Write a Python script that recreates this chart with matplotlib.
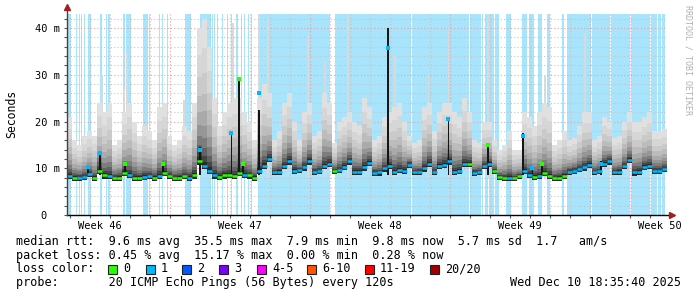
import matplotlib
matplotlib.use("Agg")
import matplotlib.pyplot as plt
from matplotlib.patches import Rectangle
import numpy as np

# 30 day smokeping graph, one sample = 6 hours
median_ms = [
    8.3, 8.0, 8.0, 8.1,   8.8, 8.0, 9.5, 8.5,   8.4, 8.0, 8.0, 9.0,
    8.6, 8.0, 8.0, 8.2,   8.3, 8.0, 8.3, 9.0,   8.4, 8.0, 8.0, 8.3,
    8.0, 8.5, 11.5, 10.5, 9.5, 8.5, 8.2, 8.5,   8.6, 8.3, 9.0, 8.6,
    8.5, 8.0, 9.5, 10.5,  12.0, 9.2, 9.3, 10.5, 11.5, 9.5, 9.6, 10.2,
    11.5, 9.2, 9.4, 10.5, 11.0, 9.5, 9.6, 10.3, 11.5, 9.2, 9.3, 10.2,
    11.2, 9.05, 9.1, 10.0, 10.5, 9.2, 9.6, 9.5, 10.8, 9.2, 9.3, 10.0,
    11.0, 9.2, 10.5, 10.8, 11.5, 9.2, 9.5, 11.0, 11.0, 9.05, 9.2, 10.5,
    11.0, 9.4, 8.2, 8.0,  8.0, 8.0, 8.3, 9.5,   8.6, 8.2, 8.3, 9.0,
    8.3, 8.0, 8.0, 8.4,   9.3, 9.5, 9.8, 10.2,  10.8, 9.2, 9.4, 11.0,
    11.5, 9.2, 9.3, 10.5, 11.8, 9.1, 9.3, 10.3, 10.5, 9.4, 9.4, 9.8,
]
smoke_top_ms = [
    21, 16, 15, 17,   18, 17, 24, 22,   24, 15, 16, 22,
    24, 20, 17, 19,   18, 16, 23, 24,   17, 15, 16, 19,
    18, 24, 40, 42,   36, 25, 19, 22,   24, 25, 25, 22,
    20, 16, 25, 28,   26, 16, 18, 24,   26, 20, 16, 22,
    24, 17, 18, 26,   24, 15.5, 20, 21, 22, 20, 19, 25,
    23, 16, 17, 21,   22, 23, 24, 20,   17, 15.5, 16, 23,
    24, 18, 22, 24,   24, 22, 21, 25,   22, 16, 15.5, 20,
    20, 16, 14, 15,   18, 14, 14, 22,   21, 19, 22, 24,
    23, 15, 16, 18,   16, 16.5, 19, 22, 22, 16, 17, 21,
    20, 16.5, 17, 20, 22, 20, 20, 21,   22, 18, 18, 18.5,
]

# narrow dark columns (median jumped up) and narrow light smoke peaks
spike_days = [1.05, 1.65, 2.9, 4.8, 6.65, 8.22, 8.6, 8.8, 9.6,
              16.05, 19.07, 21.05, 22.8, 23.27, 23.75, 26.7]
spike_dark_ms = [10.3, 13.3, 11.3, 11.0, 14.5, 17.5, 29.3, 11.0, 22.5,
                 40.0, 20.7, 15.4, 17.5, 10.3, 11.3, 11.5]
spike_median_ms = [10.3, 13.3, 11.0, 11.0, 14.0, 17.5, 29.0, 11.0, 26.0,
                   35.7, 20.5, 15.0, 17.0, 10.0, 11.0, 11.0]
gray_spike_days = [1.75, 2.85, 3.0, 5.85, 8.3, 9.6, 10.05, 12.05, 12.9,
                   14.05, 16.4, 18.08, 19.07, 21.05, 23.9, 25.9]
gray_spike_ms = [30, 27, 34.6, 24.6, 41, 43, 42, 38.5, 33,
                 42.8, 34, 30, 40, 43, 30, 39]

# light blue background where packets were lost (start day, end day)
loss_periods = [
    (0.05, 0.185), (0.45, 0.5), (0.585, 0.635), (0.715, 0.765), (0.85, 0.915),
    (1.05, 1.185), (1.65, 1.75), (1.95, 2.015), (2.035, 2.15), (2.8, 2.875),
    (2.95, 3.0), (3.015, 3.185), (3.815, 4.035), (4.1, 4.15), (4.585, 4.635),
    (4.75, 4.8), (5.0, 5.05), (5.9, 6.185), (6.65, 7.175), (7.25, 7.3),
    (7.35, 7.4), (7.5, 7.55), (7.75, 7.8), (8.0, 8.05), (8.2, 8.25),
    (8.45, 8.55), (8.685, 8.75), (8.85, 8.9), (9.05, 9.115), (9.185, 9.25),
    (9.55, 13.165), (13.385, 17.185), (17.235, 20.085), (20.135, 20.7),
    (20.75, 20.8), (20.875, 21.025), (21.1, 21.35), (21.4, 21.575),
    (21.95, 22.175), (22.75, 23.0), (23.075, 23.325), (23.55, 23.75),
    (24.0, 24.125), (24.75, 24.85), (24.985, 26.175), (26.225, 27.165),
    (27.215, 28.165), (28.215, 29.165), (29.215, 29.5), (29.55, 29.715),
    (29.765, 29.9),
]

week_labels = ["Week 46", "Week 47", "Week 48", "Week 49", "Week 50"]
week_label_days = [1.65, 8.65, 15.65, 22.65, 29.65]

loss_labels = ["0", "1", "2", "3", "4-5", "6-10", "11-19", "20/20"]
loss_colors = ["#26ff00", "#00b8ff", "#0059ff", "#7e00ff", "#ff00ff",
               "#ff5500", "#ff0000", "#a10000"]

W, H = 697, 297
MONO = "DejaVu Sans Mono"


def fx(px):
    return px / W


def fy(py):
    return 1 - py / H


fig = plt.figure(figsize=(W / 100, H / 100), dpi=100)
fig.patch.set_facecolor("white")
ax = fig.add_axes([fx(67), fy(215), 600 / W, 201 / H])
ax.set_xlim(0, 30)
ax.set_ylim(0, 43)
for s in ax.spines.values():
    s.set_visible(False)

# loss background
for a, b in loss_periods:
    ax.axvspan(a, b, color="#a8e4fb", lw=0, zorder=0)

# grid
for y in range(2, 43, 2):
    c = "#e6a3a3" if y % 10 == 0 else "#c4c4c4"
    ax.axhline(y, color=c, lw=0.8, ls=(0, (1, 2)), zorder=1)
for k in range(30):
    d = 0.15 + k
    c = "#e6a3a3" if (k - 5) % 7 == 0 else "#c4c4c4"
    if k == 28:
        c = "#e9a6d8"
    ax.axvline(d, color=c, lw=0.8, ls=(0, (1, 2)), zorder=1)

med = np.array(median_ms)
top = np.array(smoke_top_ms)
edges = np.arange(len(med) + 1) * 0.25
med_e = np.append(med, med[-1])
top_e = np.append(top, top[-1])
low_e = med_e - 0.7

# thin light smoke peaks
ax.bar(gray_spike_days, np.array(gray_spike_ms) - 8, bottom=8, width=0.07,
       color="#d9d9d9", lw=0, zorder=2)

# smoke layers, lightest (widest) first
fracs = [1.0, 0.8, 0.63, 0.49, 0.37, 0.27, 0.19, 0.12, 0.07, 0.03]
shades = ["#e0e0e0", "#d6d6d6", "#cacaca", "#bcbcbc", "#aaaaaa",
          "#969696", "#7d7d7d", "#626262", "#454545", "#2a2a2a"]
for f, c in zip(fracs, shades):
    lvl = med_e + (top_e - med_e) * f
    ax.fill_between(edges, low_e, lvl, step="post", color=c, lw=0, zorder=3)

# dark columns
ax.bar(spike_days, np.array(spike_dark_ms) - 8.5, bottom=8.5, width=0.08,
       color="#151515", lw=0, zorder=4)


def lost(day):
    return any(a <= day < b for a, b in loss_periods)


# median line coloured by loss
for k, m in enumerate(med):
    c = loss_colors[1] if lost(edges[k] + 0.125) else loss_colors[0]
    ax.hlines(m, edges[k], edges[k + 1], color=c, lw=1.8, zorder=5)
for d, m in zip(spike_days, spike_median_ms):
    c = loss_colors[1] if lost(d) else loss_colors[0]
    ax.plot(d, m, marker="s", ms=2.2, color=c, mew=0, zorder=6)

# axes
ax.plot([0, 30.2], [0, 0], color="black", lw=1, clip_on=False, zorder=7)
ax.plot([0, 0], [0, 44.2], color="#444444", lw=1, clip_on=False, zorder=7)
ax.plot(0, 44.4, marker="^", ms=4, color="#a01f1f", clip_on=False, zorder=8)
ax.plot(30.25, 0, marker=">", ms=4, color="#a01f1f", clip_on=False, zorder=8)

ax.set_yticks([0, 10, 20, 30, 40], ["0  ", "10 m", "20 m", "30 m", "40 m"],
              family=MONO, fontsize=7.5)
ax.set_yticks(range(0, 43, 2), minor=True)
ax.tick_params(axis="y", which="both", length=2, width=0.8, color="#555555",
               pad=3)
ax.set_xticks(week_label_days, week_labels, family=MONO, fontsize=7.5)
ax.set_xticks([0.15 + k for k in range(30)], minor=True)
ax.tick_params(axis="x", which="major", length=0, pad=4.5)
ax.tick_params(axis="x", which="minor", length=2, width=0.8, color="#555555")

fig.text(fx(12), fy(114), "Seconds", rotation=90, family=MONO, fontsize=8.3,
         ha="center", va="center")
fig.text(fx(688), fy(5), "RRDTOOL / TOBI OETIKER", rotation=270, family=MONO,
         fontsize=6, color="#b0b0b0", ha="center", va="top")

fs = 8.5
fig.text(fx(16), fy(242),
         "median rtt:  9.6 ms avg  35.5 ms max  7.9 ms min  9.8 ms now  5.7 ms sd  1.7   am/s",
         family=MONO, fontsize=fs, va="center")
fig.text(fx(16), fy(255.5),
         "packet loss: 0.45 % avg  15.17 % max  0.00 % min  0.28 % now",
         family=MONO, fontsize=fs, va="center")
fig.text(fx(16), fy(269), "loss color:", family=MONO, fontsize=fs, va="center")
box_px = [108, 146, 182, 219, 257, 307, 365, 430]
for bx, lab, c in zip(box_px, loss_labels, loss_colors):
    fig.add_artist(Rectangle((fx(bx), fy(273.5)), 9 / W, 9 / H,
                             transform=fig.transFigure, facecolor=c,
                             edgecolor="#222222", lw=0.8))
    fig.text(fx(bx + 15), fy(269), lab, family=MONO, fontsize=fs, va="center")
fig.text(fx(16), fy(282.5),
         "probe:       20 ICMP Echo Pings (56 Bytes) every 120s",
         family=MONO, fontsize=fs, va="center")
fig.text(fx(681), fy(282.5), "Wed Dec 10 18:35:40 2025", family=MONO,
         fontsize=fs, va="center", ha="right")

fig.savefig("out.png", dpi=100)
